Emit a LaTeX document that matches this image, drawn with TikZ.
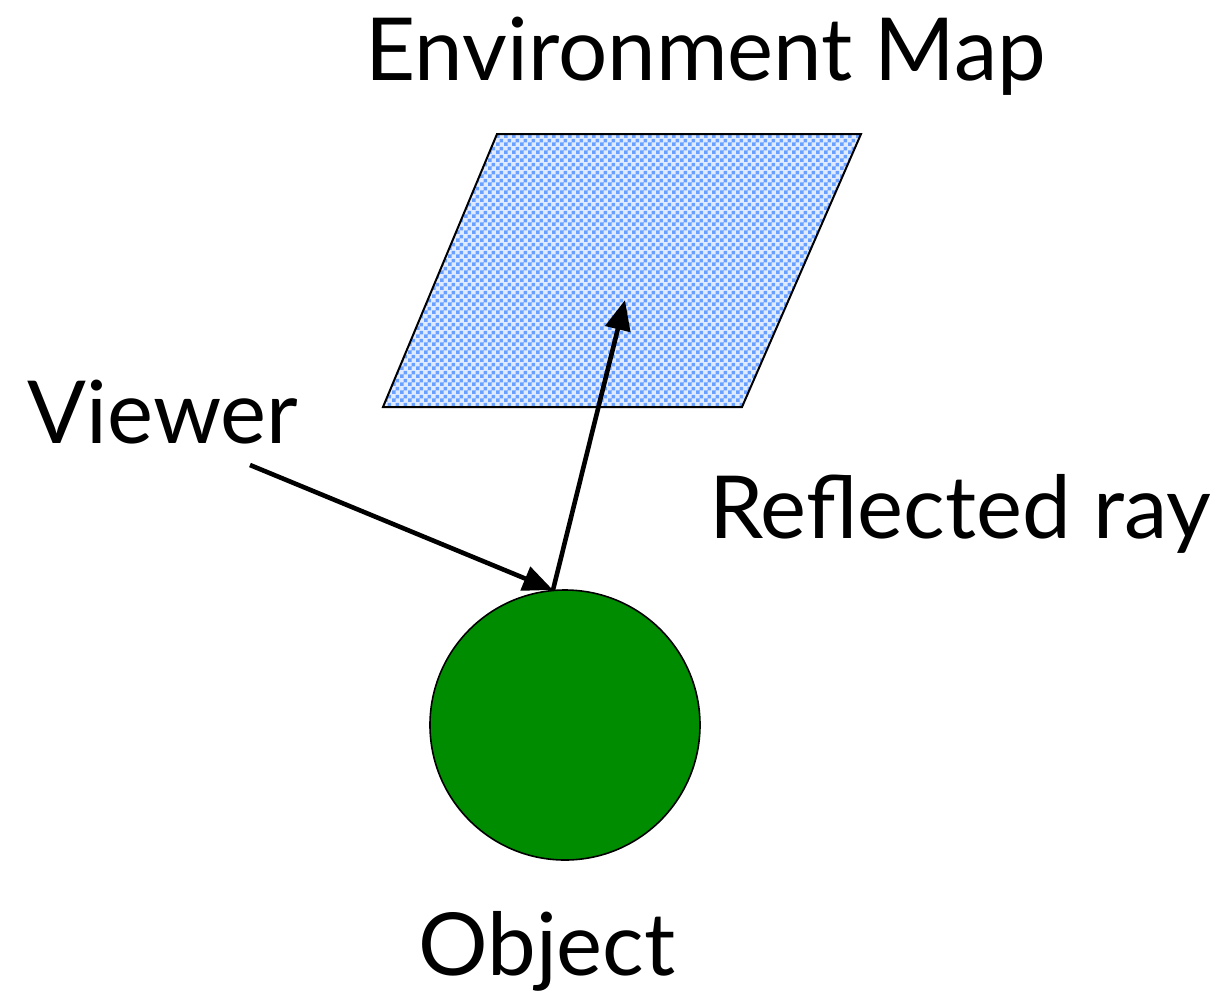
\documentclass[tikz,border=0pt]{standalone}
\usepackage{fontspec}
\setmainfont{Lato}
\usetikzlibrary{patterns.meta,arrows.meta}
\definecolor{objgreen}{RGB}{0,140,0}
\definecolor{mapblue}{RGB}{105,160,255}
\definecolor{mapback}{RGB}{225,235,255}
\pgfdeclarepattern{
  name=finechecker, type=uncolored,
  bottom left={\pgfpoint{0pt}{0pt}}, top right={\pgfpoint{4pt}{4pt}},
  tile size={\pgfpoint{4pt}{4pt}},
  code={\pgfpathrectangle{\pgfpointorigin}{\pgfpoint{2pt}{2pt}}
        \pgfpathrectangle{\pgfpoint{2pt}{2pt}}{\pgfpoint{2pt}{2pt}}
        \pgfusepath{fill}}
}
\tikzset{
  lbl/.style={font=\fontsize{43.5}{48}\selectfont, anchor=base, inner sep=0pt},
  ray/.style={line width=2.3pt, -{Triangle[length=15pt,width=12.5pt]}},
}
\begin{document}
\begin{tikzpicture}[x=0.5pt,y=-0.5pt]
\useasboundingbox (0,0) rectangle (1228,993);
% environment map
\fill[mapback] (497,134) -- (861,134) -- (742,407) -- (383,407) -- cycle;
\fill[pattern=finechecker, pattern color=mapblue] (497,134) -- (861,134) -- (742,407) -- (383,407) -- cycle;
\draw[line width=1pt] (497,134) -- (861,134) -- (742,407) -- (383,407) -- cycle;
% object
\node[circle, draw=black, line width=0.8pt, fill=objgreen, minimum size=270pt*0.5, inner sep=0pt] (obj) at (565,725) {};
\coordinate (v) at (250,465);
\coordinate (h) at (553,590);
\coordinate (t) at (625,300);
\draw[ray] (v) -- (h);
\draw[ray] (h) -- (t);
\node[lbl] (envlbl) at (706,80) {Environment Map};
\node[lbl] (viewlbl) at (163,443) {Viewer};
\node[lbl] (refllbl) at (960,538) {Reflected ray};
\node[lbl] (objlbl) at (547,975) {Object};
\end{tikzpicture}
\end{document}
